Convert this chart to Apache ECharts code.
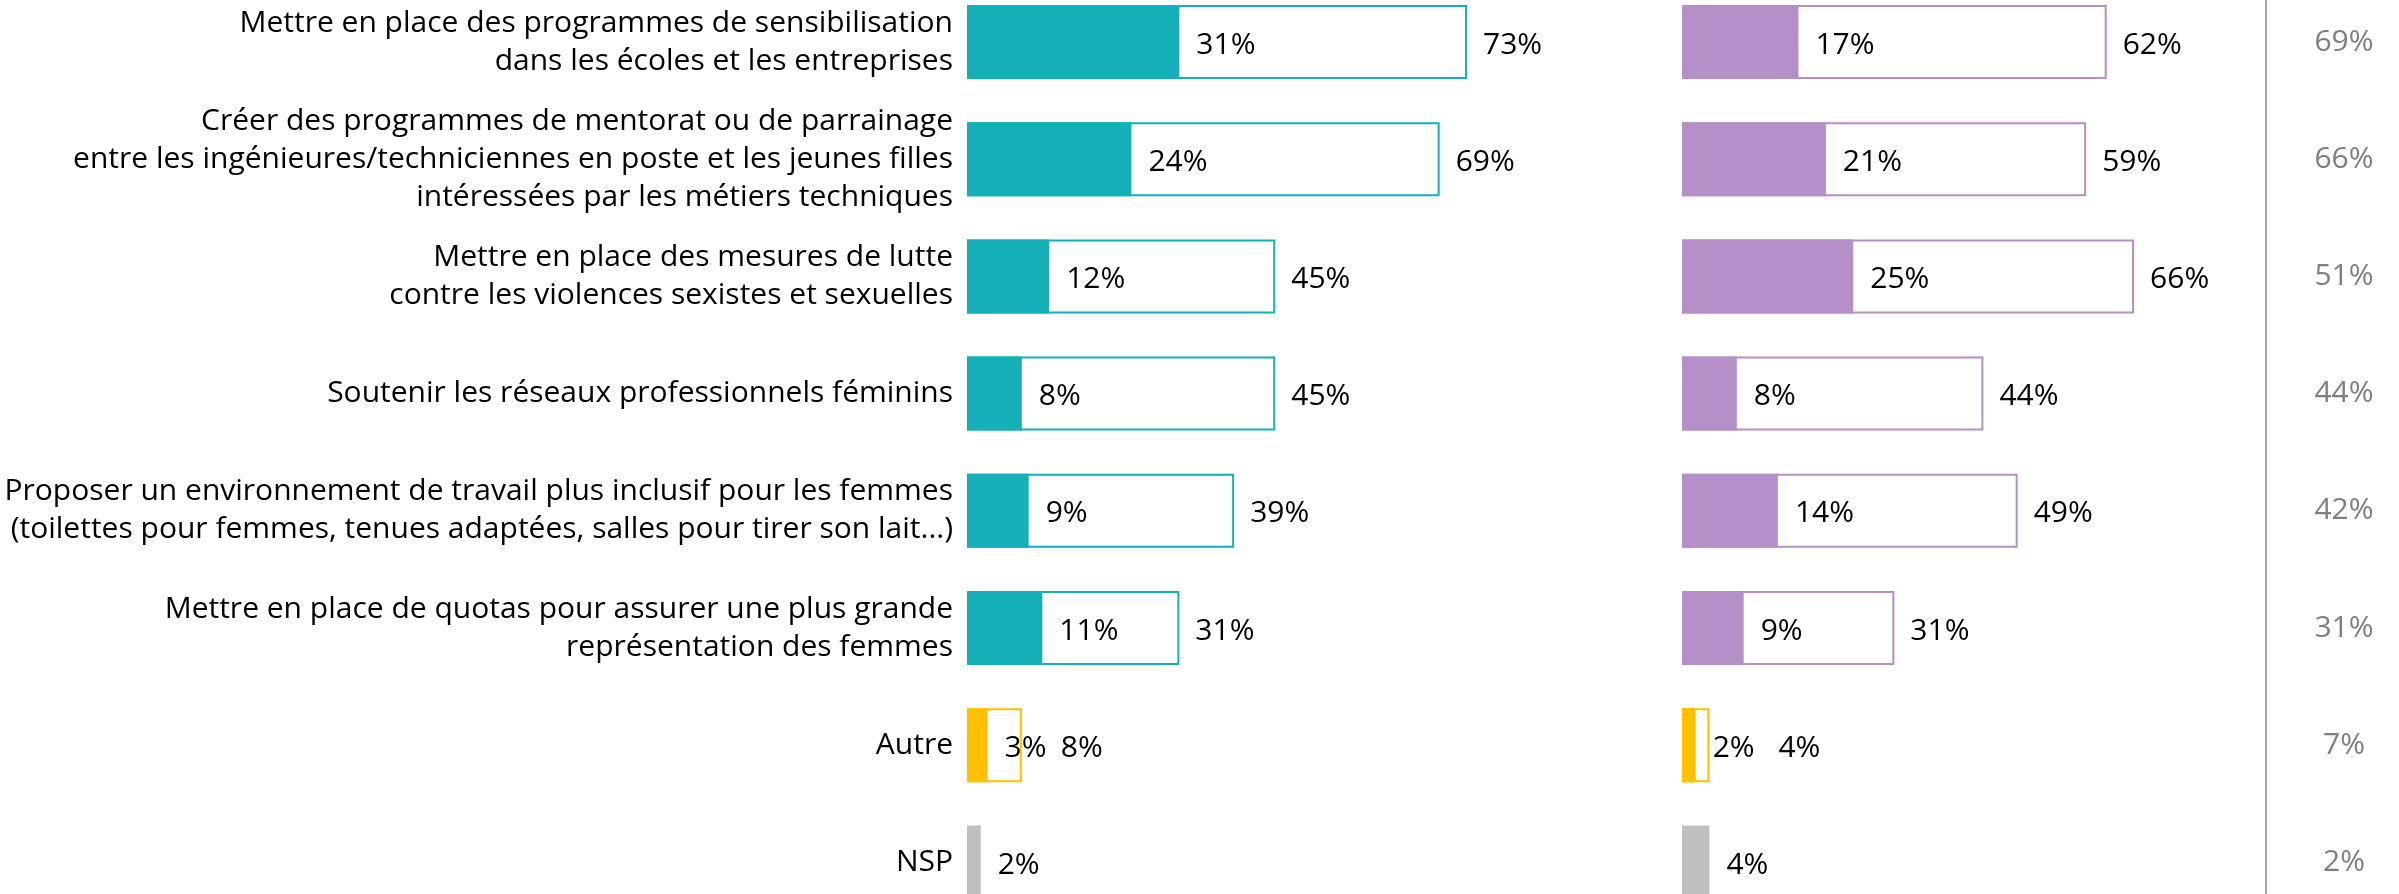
<!DOCTYPE html>
<html><head><meta charset="utf-8">
<script src="https://cdn.jsdelivr.net/npm/echarts@6/dist/echarts.min.js"></script>
<style>html,body{margin:0;padding:0;background:#fff}#c{width:2399px;height:894px}</style>
</head><body><div id="c"></div>
<script>
const categories = [
  "Mettre en place des programmes de sensibilisation\ndans les écoles et les entreprises",
  "Créer des programmes de mentorat ou de parrainage\nentre les ingénieures/techniciennes en poste et les jeunes filles\nintéressées par les métiers techniques",
  "Mettre en place des mesures de lutte\ncontre les violences sexistes et sexuelles",
  "Soutenir les réseaux professionnels féminins",
  "Proposer un environnement de travail plus inclusif pour les femmes\n(toilettes pour femmes, tenues adaptées, salles pour tirer son lait...)",
  "Mettre en place de quotas pour assurer une plus grande\nreprésentation des femmes",
  "Autre",
  "NSP"
];
const leftFirst  = [31, 24, 12, 8, 9, 11, 3, 2];
const leftTotal  = [73, 69, 45, 45, 39, 31, 8, null];
const rightFirst = [17, 21, 25, 8, 14, 9, 2, 4];
const rightTotal = [62, 59, 66, 44, 49, 31, 4, null];
const overallTotal = [69, 66, 51, 44, 42, 31, 7, 2];

const TEAL = '#14AFB7', PURPLE = '#B48FC8', YELLOW = '#FFC000', GREY = '#BFBFBF';
const FONT = 'Open Sans';
function rowColor(i, main) { return i === 6 ? YELLOW : (i === 7 ? GREY : main); }

const ROW_TOP = 42, ROW_SPAN = 820.4, BAR_W = 74, TXT_DY = 3;

function outlineSeries(vals, main, gi, autreShift) {
  return {
    type: 'bar', xAxisIndex: gi, yAxisIndex: gi, barWidth: BAR_W, barGap: '-100%',
    silent: true, clip: false,
    data: vals.map((v, i) => v == null ? '-' : {
      value: v,
      itemStyle: { color: '#fff', borderColor: rowColor(i, main), borderWidth: 2 },
      label: i === 6 ? { offset: [autreShift, TXT_DY] } : undefined
    }),
    label: { show: true, position: 'right', distance: 16, formatter: '{c}%', offset: [0, TXT_DY],
             fontFamily: FONT, fontSize: 30, color: '#000' }
  };
}
function filledSeries(vals, main, gi) {
  return {
    type: 'bar', xAxisIndex: gi, yAxisIndex: gi, barWidth: BAR_W, barGap: '-100%',
    silent: true, clip: false,
    data: vals.map((v, i) => ({ value: v, itemStyle: { color: rowColor(i, main) } })),
    label: { show: true, position: 'right', distance: 17, formatter: '{c}%', offset: [0, TXT_DY],
             fontFamily: FONT, fontSize: 30, color: '#000' }
  };
}

const chart = echarts.init(document.getElementById('c'), null, { renderer: 'canvas' });
chart.setOption({
  animation: false,
  backgroundColor: '#fff',
  grid: [
    { left: 967, top: ROW_TOP, width: 685, height: ROW_SPAN, outerBoundsMode: 'none' },
    { left: 1682, top: ROW_TOP, width: 685, height: ROW_SPAN, outerBoundsMode: 'none' },
    { left: 2266, top: ROW_TOP, width: 130, height: ROW_SPAN, outerBoundsMode: 'none' },
    { left: 2266, top: 0, width: 130, height: 894, outerBoundsMode: 'none' }
  ],
  xAxis: [
    { gridIndex: 0, type: 'value', min: 0, max: 100, show: false },
    { gridIndex: 1, type: 'value', min: 0, max: 100, show: false },
    { gridIndex: 2, type: 'value', min: 0, max: 100, show: false },
    { gridIndex: 3, type: 'value', min: 0, max: 100, show: false }
  ],
  yAxis: [
    { gridIndex: 0, type: 'category', inverse: true, boundaryGap: false, data: categories,
      axisLine: { show: false }, axisTick: { show: false }, splitLine: { show: false },
      axisLabel: { margin: 14, fontFamily: FONT, fontSize: 30, lineHeight: 38, color: '#000', align: 'right',
                   interval: 0, padding: [TXT_DY * 2, 0, 0, 0] } },
    { gridIndex: 1, type: 'category', inverse: true, boundaryGap: false, data: categories,
      axisLine: { show: false }, axisTick: { show: false }, splitLine: { show: false }, axisLabel: { show: false } },
    { gridIndex: 2, type: 'category', inverse: true, boundaryGap: false, data: overallTotal.map(v => v + '%'),
      axisLine: { show: false }, axisTick: { show: false }, splitLine: { show: false },
      axisLabel: { inside: true, margin: 78, align: 'center', fontFamily: FONT, fontSize: 30, color: '#7F7F7F',
                   interval: 0, padding: [TXT_DY * 2, 0, 0, 0] } },
    { gridIndex: 3, type: 'value', min: 0, max: 1,
      axisLine: { show: true, lineStyle: { color: '#A6A6A6', width: 2 } },
      axisTick: { show: false }, axisLabel: { show: false }, splitLine: { show: false } }
  ],
  series: [
    outlineSeries(leftTotal, TEAL, 0, 23),
    filledSeries(leftFirst, TEAL, 0),
    outlineSeries(rightTotal, PURPLE, 1, 53),
    filledSeries(rightFirst, PURPLE, 1)
  ]
});
</script></body></html>
